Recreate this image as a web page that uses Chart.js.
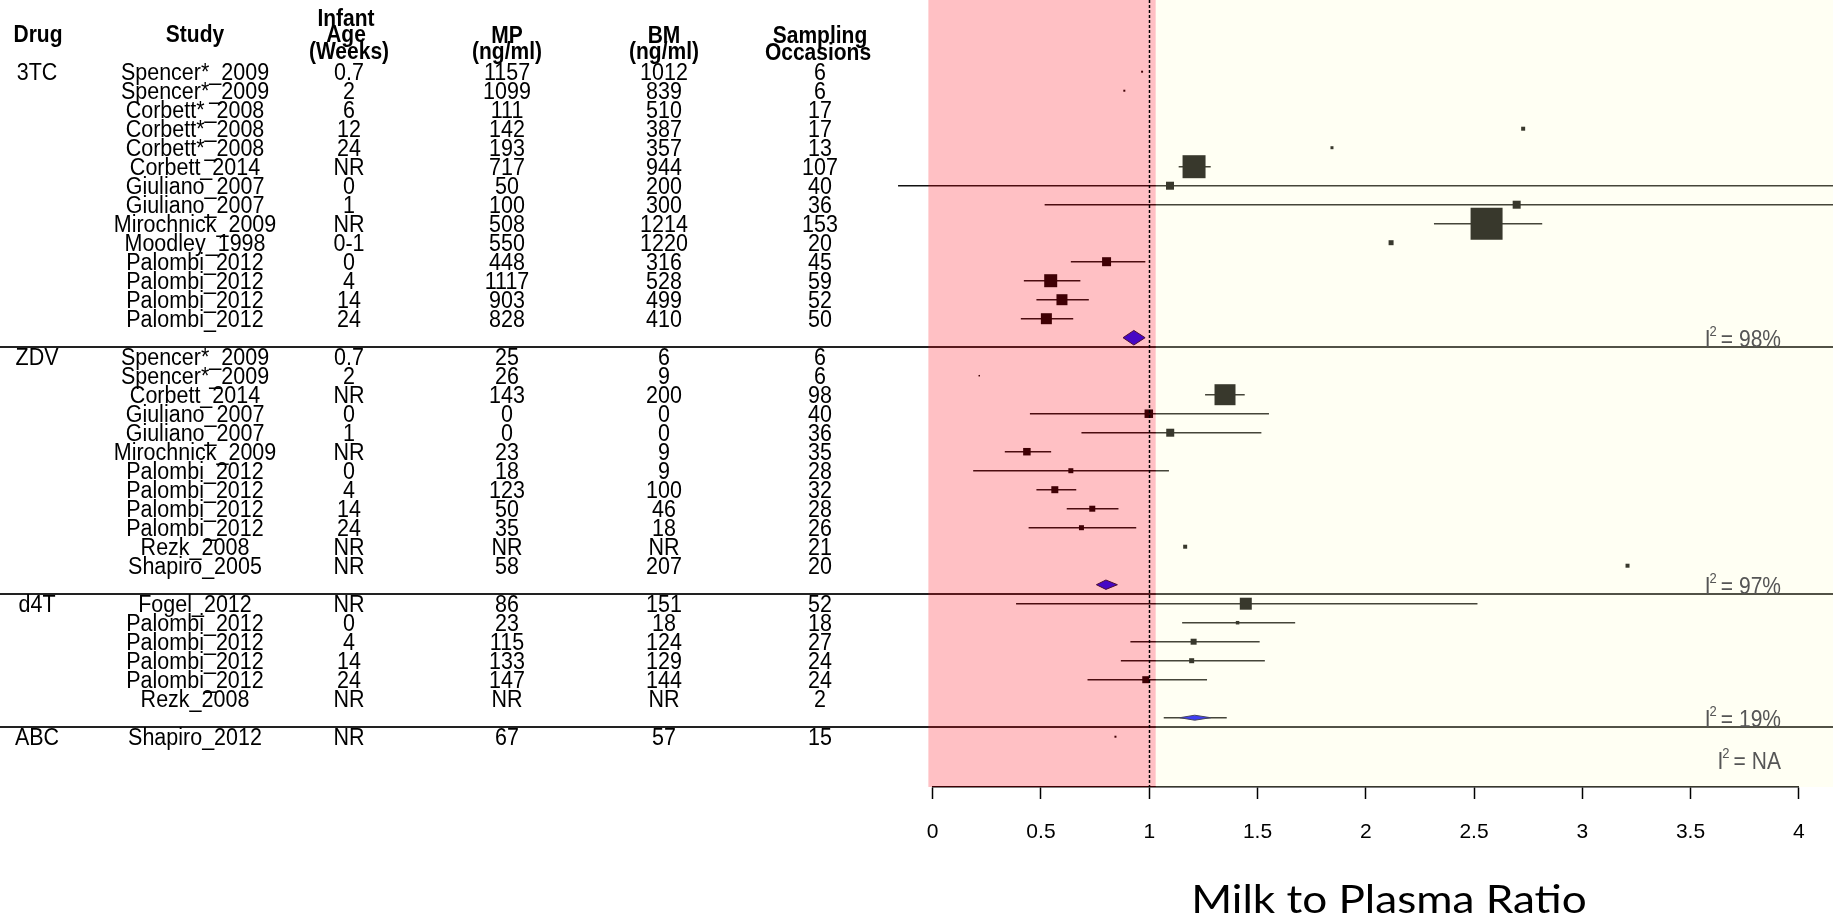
<!DOCTYPE html>
<html>
<head>
<meta charset="utf-8">
<script src="https://cdn.jsdelivr.net/npm/chart.js@4.4.1/dist/chart.umd.min.js"></script>
<style>
  html, body { margin: 0; padding: 0; background: #fff; }
</style>
</head>
<body>
<canvas id="forestChart" width="1833" height="919"></canvas>
<script>
// ---- table data ----
const drugs = ["3TC", "ZDV", "d4T", "ABC"];
const groupSizes = [14, 12, 6, 1];
const drugStartRows = [1, 16, 29, 36];

const studies = [
  "Spencer*_2009", "Spencer*_2009", "Corbett*_2008", "Corbett*_2008", "Corbett*_2008", "Corbett_2014",
  "Giuliano_2007", "Giuliano_2007", "Mirochnick_2009", "Moodley_1998", "Palombi_2012", "Palombi_2012",
  "Palombi_2012", "Palombi_2012",
  "Spencer*_2009", "Spencer*_2009", "Corbett_2014", "Giuliano_2007", "Giuliano_2007", "Mirochnick_2009",
  "Palombi_2012", "Palombi_2012", "Palombi_2012", "Palombi_2012", "Rezk_2008", "Shapiro_2005",
  "Fogel_2012", "Palombi_2012", "Palombi_2012", "Palombi_2012", "Palombi_2012", "Rezk_2008",
  "Shapiro_2012"
];
const infantAge = [
  "0.7", "2", "6", "12", "24", "NR", "0", "1", "NR", "0-1", "0", "4", "14", "24",
  "0.7", "2", "NR", "0", "1", "NR", "0", "4", "14", "24", "NR", "NR",
  "NR", "0", "4", "14", "24", "NR",
  "NR"
];
const mpConc = [
  "1157", "1099", "111", "142", "193", "717", "50", "100", "508", "550", "448", "1117", "903", "828",
  "25", "26", "143", "0", "0", "23", "18", "123", "50", "35", "NR", "58",
  "86", "23", "115", "133", "147", "NR",
  "67"
];
const bmConc = [
  "1012", "839", "510", "387", "357", "944", "200", "300", "1214", "1220", "316", "528", "499", "410",
  "6", "9", "200", "0", "0", "9", "9", "100", "46", "18", "NR", "207",
  "151", "18", "124", "129", "144", "NR",
  "57"
];
const samplingOccasions = [
  "6", "6", "17", "17", "13", "107", "40", "36", "153", "20", "45", "59", "52", "50",
  "6", "6", "98", "40", "36", "35", "28", "32", "28", "26", "21", "20",
  "52", "18", "27", "24", "24", "2",
  "15"
];

// ---- forest data (milk to plasma ratio) ----
const ratio = [
  0.967, 0.885, null, 2.727, 1.844, 1.207, 1.096, 2.697, 2.558, 2.117, 0.803, 0.545, 0.597, 0.525,
  null, 0.215, 1.350, 0.998, 1.097, 0.435, 0.638, 0.564, 0.737, 0.687, 1.166, 3.209,
  1.446, 1.408, 1.205, 1.196, 0.984, null,
  0.844
];
const ciLower = [
  null, null, null, null, null, 1.136, -0.16, 0.517, 2.315, null, 0.638, 0.421, 0.479, 0.407,
  null, null, 1.258, 0.449, 0.687, 0.333, 0.187, 0.479, 0.619, 0.443, null, null,
  0.385, 1.152, 0.913, 0.869, 0.715, null,
  null
];
const ciUpper = [
  null, null, null, null, null, 1.284, 4.3, 4.3, 2.815, null, 0.982, 0.682, 0.721, 0.649,
  null, null, 1.441, 1.553, 1.518, 0.547, 1.091, 0.663, 0.858, 0.940, null, null,
  2.516, 1.674, 1.510, 1.534, 1.267, null,
  null
];
const studyWeight = [
  2, 2, null, 4, 3, 23, 8, 8, 32, 5, 9, 13, 11, 11,
  null, 1.5, 21, 8.5, 8, 7.5, 5, 7, 6, 5, 4, 4,
  12, 3.5, 6, 5, 7, null,
  2
];

const summaryRows = [15, 28, 35];
const summaryRatio = [0.929, 0.800, 1.210];
const summaryLower = [0.879, 0.756, 1.141];
const summaryUpper = [0.981, 0.853, 1.284];
const summaryCiLower = [null, null, 1.067];
const summaryCiUpper = [null, null, 1.358];

const heterogeneity = ["98%", "97%", "19%", "NA"];
const heterogeneityRows = [15, 28, 35, 37.2];

const separatorRows = [15.5, 28.5, 35.5];
const belowOneRange = [-0.02, 1.03];
const aboveOneRange = [1.03, 4.3];
const xTicks = [0, 0.5, 1, 1.5, 2, 2.5, 3, 3.5, 4];

// rows for each study line
const studyRows = [];
groupSizes.forEach((n, g) => {
  for (let k = 0; k < n; k++) studyRows.push(drugStartRows[g] + k);
});

// ---- datasets ----
const pointData = [];
const pointSizes = [];
ratio.forEach((v, i) => {
  if (v === null) return;
  pointData.push({ x: v, y: studyRows[i] });
  pointSizes.push(studyWeight[i] * Math.SQRT1_2);
});

const whiskerData = [];
ciLower.forEach((lo, i) => {
  if (lo === null) return;
  whiskerData.push({ x: lo, y: studyRows[i] }, { x: ciUpper[i], y: studyRows[i] }, { x: null, y: null });
});
summaryCiLower.forEach((lo, i) => {
  if (lo === null) return;
  whiskerData.push({ x: lo, y: summaryRows[i] }, { x: summaryCiUpper[i], y: summaryRows[i] }, { x: null, y: null });
});

const diamondHalfHeight = [7.3, 4.7, 2.5];
const bodyFont = "21.5px 'Liberation Sans', Arial, sans-serif";
const headFont = "bold 21px 'Liberation Sans', Arial, sans-serif";
const col = { drug: 37, study: 195, age: 349, mp: 507, bm: 664, occ: 820 };

// text a little taller than wide, like the original R output
function tallText(ctx, txt, x, base, sy) {
  ctx.save();
  ctx.translate(x, base);
  ctx.scale(1, sy);
  ctx.fillText(txt, 0, 0);
  ctx.restore();
}

const forestDecor = {
  id: "forestDecor",
  afterDatasetsDraw(chart) {
    const { ctx, chartArea } = chart;
    const x = chart.scales.x;
    const y = chart.scales.y;
    ctx.save();

    // pooled estimates
    summaryRows.forEach((row, i) => {
      const yc = y.getPixelForValue(row);
      const xc = x.getPixelForValue(summaryRatio[i]);
      const hh = diamondHalfHeight[i];
      ctx.beginPath();
      ctx.moveTo(x.getPixelForValue(summaryLower[i]), yc);
      ctx.lineTo(xc, yc - hh);
      ctx.lineTo(x.getPixelForValue(summaryUpper[i]), yc);
      ctx.lineTo(xc, yc + hh);
      ctx.closePath();
      ctx.fillStyle = "#0a0aff";
      ctx.fill();
      ctx.strokeStyle = "#101040";
      ctx.lineWidth = 1;
      ctx.stroke();
    });

    // group separators
    ctx.strokeStyle = "#222";
    ctx.lineWidth = 2;
    separatorRows.forEach((r) => {
      const py = Math.round(y.getPixelForValue(r));
      ctx.beginPath();
      ctx.moveTo(0, py);
      ctx.lineTo(chart.width, py);
      ctx.stroke();
    });

    // shaded regions
    const pinkL = x.getPixelForValue(belowOneRange[0]);
    const pinkR = x.getPixelForValue(belowOneRange[1]);
    ctx.fillStyle = "rgba(255, 0, 16, 0.247)";
    ctx.fillRect(pinkL, chartArea.top, pinkR - pinkL, chartArea.bottom - chartArea.top);
    const beigeR = x.getPixelForValue(aboveOneRange[1]);
    ctx.fillStyle = "rgba(255, 255, 200, 0.22)";
    ctx.fillRect(pinkR, chartArea.top, beigeR - pinkR, chartArea.bottom - chartArea.top);

    // reference line at 1
    const x1 = Math.round(x.getPixelForValue(1)) + 0.5;
    ctx.setLineDash([3, 2]);
    ctx.strokeStyle = "#000";
    ctx.lineWidth = 1.5;
    ctx.beginPath();
    ctx.moveTo(x1, chartArea.top);
    ctx.lineTo(x1, chartArea.bottom);
    ctx.stroke();
    ctx.setLineDash([]);

    // I^2 labels
    const rightX = 1781;
    ctx.fillStyle = "#555";
    ctx.textBaseline = "alphabetic";
    ctx.textAlign = "right";
    heterogeneity.forEach((val, i) => {
      const base = y.getPixelForValue(heterogeneityRows[i]) + 9;
      ctx.font = "21px 'Liberation Sans', Arial, sans-serif";
      tallText(ctx, val, rightX, base, 1.15);
      let cx = rightX - ctx.measureText(val).width - 6;
      tallText(ctx, "=", cx, base, 1.15);
      cx -= ctx.measureText("=").width + 4;
      ctx.font = "13px 'Liberation Sans', Arial, sans-serif";
      tallText(ctx, "2", cx, base - 11, 1.15);
      cx -= ctx.measureText("2").width;
      ctx.font = "21px 'Liberation Sans', Arial, sans-serif";
      tallText(ctx, "I", cx + 1, base, 1.15);
    });

    // table headers
    const hs = 1.15;
    ctx.fillStyle = "#000";
    ctx.textAlign = "center";
    ctx.font = headFont;
    tallText(ctx, "Drug", 38, 42, hs);
    tallText(ctx, "Study", col.study, 42, hs);
    tallText(ctx, "Infant", 346, 26, hs);
    tallText(ctx, "Age", 346, 42, hs);
    tallText(ctx, "(Weeks)", 349, 59, hs);
    tallText(ctx, "MP", col.mp, 43, hs);
    tallText(ctx, "(ng/ml)", col.mp, 59, hs);
    tallText(ctx, "BM", col.bm, 43, hs);
    tallText(ctx, "(ng/ml)", col.bm, 59, hs);
    tallText(ctx, "Sampling", col.occ, 43, hs);
    tallText(ctx, "Occasions", 818, 60, hs);

    // table body
    const bs = 1.15;
    ctx.font = bodyFont;
    drugs.forEach((d, g) => {
      tallText(ctx, d, col.drug, y.getPixelForValue(drugStartRows[g]) + 8, bs);
    });
    studies.forEach((s, i) => {
      const base = y.getPixelForValue(studyRows[i]) + 8;
      tallText(ctx, s, col.study, base, bs);
      tallText(ctx, infantAge[i], col.age, base, bs);
      tallText(ctx, mpConc[i], col.mp, base, bs);
      tallText(ctx, bmConc[i], col.bm, base, bs);
      tallText(ctx, samplingOccasions[i], col.occ, base, bs);
    });

    // axis title
    ctx.font = "38px Lato, 'Open Sans', sans-serif";
    ctx.save();
    ctx.translate(1389, 913);
    ctx.scale(1.16, 1);
    ctx.fillText("Milk to Plasma Ratio", 0, 0);
    ctx.restore();
    ctx.restore();
  }
};

const ctx = document.getElementById("forestChart").getContext("2d");

const chart = new Chart(ctx, {
  type: "scatter",
  data: {
    datasets: [
      {
        label: "Study ratio",
        data: pointData,
        pointStyle: "rect",
        pointRadius: pointSizes,
        pointHoverRadius: pointSizes,
        backgroundColor: "#000",
        borderWidth: 0,
        clip: false,
      },
      {
        type: "line",
        label: "95% CI",
        data: whiskerData,
        borderColor: "#111",
        borderWidth: 1.4,
        pointRadius: 0,
        spanGaps: false,
        fill: false,
        clip: false,
      },
    ],
  },
  options: {
    responsive: false,
    animation: false,
    events: [],
    layout: { autoPadding: false, padding: { left: 932.7, right: 34.2, top: 0, bottom: 0 } },
    plugins: { legend: { display: false }, tooltip: { enabled: false } },
    scales: {
      x: {
        type: "linear",
        min: 0,
        max: 4,
        afterFit: (scale) => { scale.height = 132; },
        afterBuildTicks: (scale) => { scale.ticks = xTicks.map((v) => ({ value: v })); },
        ticks: {
          color: "#000",
          padding: 21,
          font: { family: "'Liberation Sans', Arial, sans-serif", size: 21 },
          callback: (v) => String(v),
        },
        grid: { drawOnChartArea: false, drawTicks: true, tickLength: 12, tickColor: "#000", tickWidth: 1.5 },
        border: { display: true, color: "#000", width: 1.5 },
        title: { display: false },
      },
      y: {
        type: "linear",
        display: false,
        reverse: true,
        min: -2.774,
        max: 38.647,
      },
    },
  },
  plugins: [forestDecor],
});
</script>
</body>
</html>
